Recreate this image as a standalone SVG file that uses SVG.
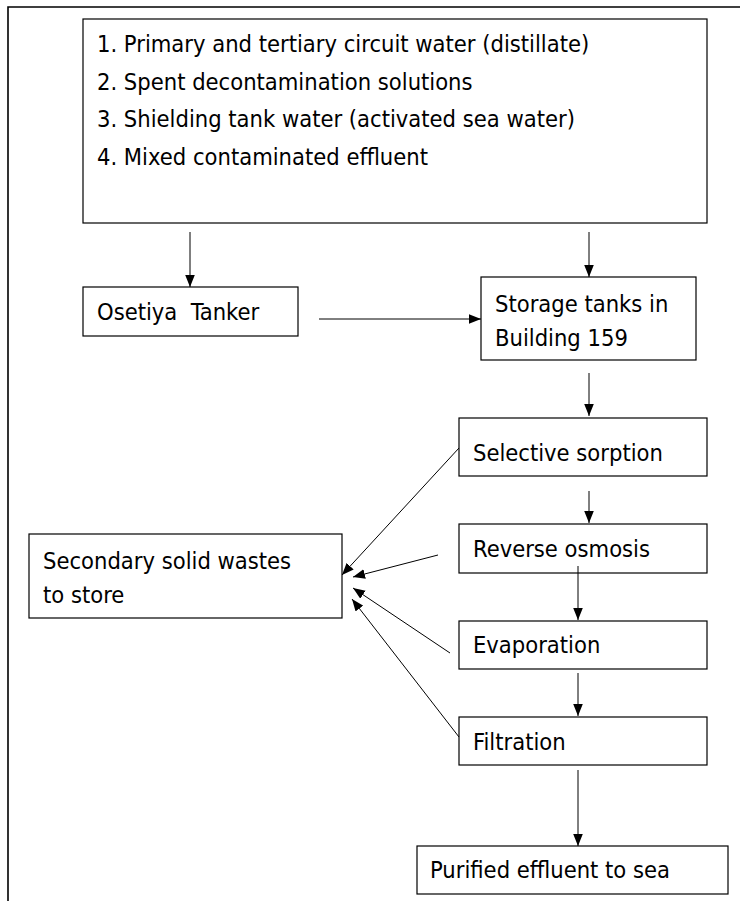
<svg xmlns="http://www.w3.org/2000/svg" width="740" height="901" viewBox="0 0 740 901">
  <style>
    .box { fill: #ffffff; stroke: #000000; stroke-width: 1.2; }
    .lbl { font-family: "DejaVu Sans Condensed", "DejaVu Sans", Verdana, sans-serif; font-stretch: condensed; font-size: 23.5px; fill: #000000; }
    .frame { stroke: #000000; stroke-width: 1.6; fill: none; }
    .conn line { stroke: #000000; stroke-width: 1; }
  </style>
  <defs>
    <marker id="arrow" viewBox="0 0 10 8" refX="10" refY="4" markerWidth="12" markerHeight="10" markerUnits="userSpaceOnUse" orient="auto">
      <path d="M0,0 L10,4 L0,8 Z" fill="#000000"/>
    </marker>
  </defs>

  <rect width="740" height="901" fill="#ffffff"/>

  <!-- page frame: top rule and left rule -->
  <path class="frame" d="M8,901 L8,7 L740,7"/>

  <g id="sources">
    <rect class="box" x="83" y="19" width="624" height="204"/>
    <text class="lbl" x="97" y="51.5">1. Primary and tertiary circuit water (distillate)</text>
    <text class="lbl" x="97" y="89.5">2. Spent decontamination solutions</text>
    <text class="lbl" x="97" y="127">3. Shielding tank water (activated sea water)</text>
    <text class="lbl" x="97" y="164.5">4. Mixed contaminated effluent</text>
  </g>

  <g id="tanker">
    <rect class="box" x="83" y="287" width="215" height="49"/>
    <text class="lbl" x="97" y="320" xml:space="preserve">Osetiya  Tanker</text>
  </g>

  <g id="storage">
    <rect class="box" x="481" y="277" width="215" height="83"/>
    <text class="lbl" x="495" y="311.5">Storage tanks in</text>
    <text class="lbl" x="495" y="346">Building 159</text>
  </g>

  <g id="sorption">
    <rect class="box" x="459" y="418" width="248" height="58"/>
    <text class="lbl" x="473" y="461">Selective sorption</text>
  </g>

  <g id="osmosis">
    <rect class="box" x="459" y="524" width="248" height="49"/>
    <text class="lbl" x="473" y="557">Reverse osmosis</text>
  </g>

  <g id="evaporation">
    <rect class="box" x="459" y="621" width="248" height="48"/>
    <text class="lbl" x="473" y="653">Evaporation</text>
  </g>

  <g id="filtration">
    <rect class="box" x="459" y="717" width="248" height="48"/>
    <text class="lbl" x="473" y="749.5">Filtration</text>
  </g>

  <g id="sea">
    <rect class="box" x="417" y="846" width="311" height="48"/>
    <text class="lbl" x="430" y="877.5">Purified effluent to sea</text>
  </g>

  <g id="solid-wastes">
    <rect class="box" x="29" y="534" width="313" height="84"/>
    <text class="lbl" x="43" y="568.5">Secondary solid wastes</text>
    <text class="lbl" x="43" y="602.5">to store</text>
  </g>

  <g id="connectors" class="conn">
    <line x1="190" y1="232" x2="190" y2="287" marker-end="url(#arrow)"/>
    <line x1="589" y1="232" x2="589" y2="277" marker-end="url(#arrow)"/>
    <line x1="319" y1="319" x2="481" y2="319" marker-end="url(#arrow)"/>
    <line x1="589" y1="373" x2="589" y2="416" marker-end="url(#arrow)"/>
    <line x1="589" y1="491" x2="589" y2="523" marker-end="url(#arrow)"/>
    <line x1="578" y1="566" x2="578" y2="620" marker-end="url(#arrow)"/>
    <line x1="578" y1="673" x2="578" y2="716" marker-end="url(#arrow)"/>
    <line x1="578" y1="770" x2="578" y2="846" marker-end="url(#arrow)"/>
    <line x1="459" y1="448" x2="342" y2="575" marker-end="url(#arrow)"/>
    <line x1="438" y1="555" x2="353" y2="577" marker-end="url(#arrow)"/>
    <line x1="450" y1="653" x2="353" y2="588" marker-end="url(#arrow)"/>
    <line x1="459" y1="737" x2="352" y2="599" marker-end="url(#arrow)"/>
  </g>
</svg>
